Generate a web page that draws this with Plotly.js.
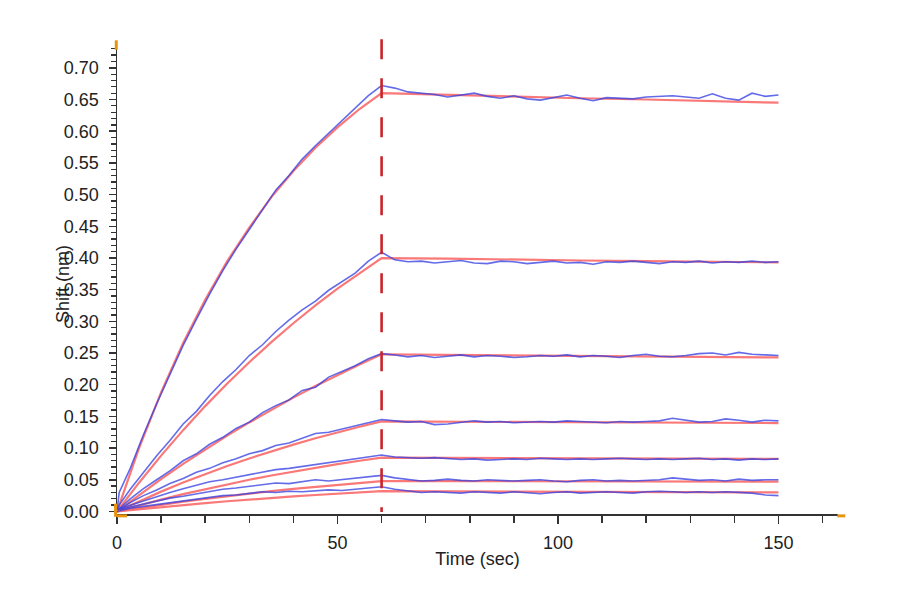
<!DOCTYPE html>
<html>
<head>
<meta charset="utf-8">
<script src="https://cdn.plot.ly/plotly-3.0.1.min.js"></script>
<style>
  html, body { margin: 0; padding: 0; background: #fff; }
  #graph { width: 900px; height: 600px; }
</style>
</head>
<body>
<div id="graph"></div>
<script>
// measured sensorgram times (sec)
const time = [0, 0.5, 3, 6, 9, 12, 15, 18, 21, 24, 27, 30, 33, 36, 39, 42, 45, 48, 51, 54, 57, 60,
  63, 66, 69, 72, 75, 78, 81, 84, 87, 90, 93, 96, 99, 102, 105, 108, 111, 114, 117, 120,
  123, 126, 129, 132, 135, 138, 141, 144, 147, 150];

// measured shift (nm), one array per concentration, highest first
const shift1 = [0, 0.030, 0.068, 0.121, 0.170, 0.217, 0.262, 0.303, 0.343, 0.380, 0.414, 0.445, 0.476, 0.507, 0.530, 0.556, 0.577, 0.597, 0.617, 0.636, 0.656, 0.672,
  0.668, 0.662, 0.660, 0.658, 0.654, 0.657, 0.660, 0.655, 0.652, 0.656, 0.651, 0.649, 0.653, 0.657, 0.652, 0.648, 0.653, 0.652, 0.651, 0.654,
  0.655, 0.656, 0.654, 0.652, 0.659, 0.652, 0.649, 0.660, 0.655, 0.657];
const shift2 = [0, 0.010, 0.035, 0.062, 0.088, 0.112, 0.138, 0.158, 0.183, 0.205, 0.224, 0.246, 0.263, 0.284, 0.302, 0.318, 0.332, 0.349, 0.362, 0.376, 0.395, 0.409,
  0.397, 0.394, 0.395, 0.392, 0.394, 0.396, 0.392, 0.391, 0.395, 0.394, 0.391, 0.393, 0.395, 0.392, 0.393, 0.390, 0.394, 0.393, 0.395, 0.393,
  0.391, 0.394, 0.393, 0.395, 0.392, 0.394, 0.393, 0.395, 0.393, 0.394];
const shift3 = [0, 0.004, 0.020, 0.036, 0.050, 0.064, 0.080, 0.091, 0.106, 0.117, 0.131, 0.141, 0.156, 0.167, 0.176, 0.191, 0.196, 0.212, 0.221, 0.230, 0.241, 0.249,
  0.247, 0.244, 0.246, 0.243, 0.245, 0.247, 0.244, 0.246, 0.245, 0.243, 0.244, 0.246, 0.245, 0.247, 0.244, 0.246, 0.245, 0.243, 0.246, 0.248,
  0.245, 0.244, 0.246, 0.249, 0.250, 0.247, 0.251, 0.248, 0.247, 0.246];
const shift4 = [0, 0.003, 0.014, 0.025, 0.034, 0.044, 0.052, 0.062, 0.068, 0.077, 0.083, 0.091, 0.096, 0.104, 0.108, 0.116, 0.123, 0.125, 0.130, 0.136, 0.140, 0.145,
  0.143, 0.141, 0.142, 0.137, 0.138, 0.141, 0.143, 0.141, 0.142, 0.140, 0.141, 0.142, 0.141, 0.143, 0.142, 0.141, 0.140, 0.142, 0.141, 0.142,
  0.143, 0.147, 0.144, 0.141, 0.142, 0.146, 0.144, 0.141, 0.144, 0.143];
const shift5 = [0, 0.003, 0.010, 0.017, 0.024, 0.030, 0.036, 0.041, 0.047, 0.050, 0.054, 0.059, 0.062, 0.066, 0.068, 0.071, 0.075, 0.077, 0.080, 0.083, 0.087, 0.089,
  0.086, 0.085, 0.084, 0.085, 0.083, 0.082, 0.083, 0.081, 0.082, 0.083, 0.082, 0.084, 0.083, 0.082, 0.083, 0.082, 0.083, 0.084, 0.083, 0.082,
  0.083, 0.082, 0.083, 0.084, 0.082, 0.083, 0.081, 0.083, 0.082, 0.083];
const shift6 = [0, 0.002, 0.007, 0.012, 0.017, 0.021, 0.024, 0.028, 0.031, 0.035, 0.037, 0.040, 0.042, 0.045, 0.044, 0.047, 0.050, 0.048, 0.050, 0.052, 0.055, 0.057,
  0.053, 0.050, 0.048, 0.049, 0.051, 0.049, 0.048, 0.050, 0.049, 0.048, 0.049, 0.050, 0.048, 0.047, 0.049, 0.050, 0.048, 0.049, 0.048, 0.049,
  0.050, 0.053, 0.051, 0.049, 0.050, 0.048, 0.051, 0.049, 0.050, 0.050];
const shift7 = [0, 0.001, 0.005, 0.008, 0.011, 0.014, 0.017, 0.019, 0.022, 0.025, 0.026, 0.028, 0.031, 0.030, 0.032, 0.031, 0.033, 0.034, 0.033, 0.035, 0.037, 0.039,
  0.035, 0.032, 0.030, 0.031, 0.030, 0.029, 0.031, 0.030, 0.029, 0.031, 0.030, 0.028, 0.030, 0.031, 0.029, 0.030, 0.031, 0.030, 0.029, 0.031,
  0.032, 0.031, 0.030, 0.031, 0.030, 0.031, 0.030, 0.029, 0.026, 0.025];

// fitted curves (global 1:1 fit)
const fitTime = [0, 5, 10, 15, 20, 25, 30, 35, 40, 45, 50, 55, 60, 75, 90, 105, 120, 135, 150];
const fit1 = [0, 0.100, 0.188, 0.266, 0.334, 0.395, 0.448, 0.496, 0.537, 0.574, 0.606, 0.635, 0.660, 0.657, 0.655, 0.652, 0.650, 0.647, 0.645];
const fit2 = [0, 0.0454, 0.0881, 0.1283, 0.1662, 0.2019, 0.2355, 0.2672, 0.2970, 0.3251, 0.3515, 0.3763, 0.3998, 0.399, 0.397, 0.396, 0.395, 0.394, 0.393];
const fit3 = [0, 0.0261, 0.0511, 0.0750, 0.0978, 0.1197, 0.1405, 0.1605, 0.1796, 0.1978, 0.2153, 0.2319, 0.2479, 0.247, 0.246, 0.245, 0.245, 0.244, 0.243];
const fit4 = [0, 0.0161, 0.0313, 0.0456, 0.0590, 0.0717, 0.0837, 0.0949, 0.1055, 0.1155, 0.1248, 0.1337, 0.1420, 0.1415, 0.141, 0.1405, 0.140, 0.1398, 0.1395];
const fit5 = [0, 0.0096, 0.0187, 0.0273, 0.0353, 0.0429, 0.0501, 0.0568, 0.0631, 0.0691, 0.0747, 0.0800, 0.0850, 0.0846, 0.0843, 0.0840, 0.0836, 0.0833, 0.0830];
const fit6 = [0, 0.0054, 0.0106, 0.0154, 0.0199, 0.0242, 0.0283, 0.0321, 0.0356, 0.0390, 0.0422, 0.0452, 0.0480, 0.0478, 0.0476, 0.0474, 0.0473, 0.0471, 0.0470];
const fit7 = [0, 0.0036, 0.0071, 0.0103, 0.0133, 0.0161, 0.0189, 0.0214, 0.0237, 0.0260, 0.0281, 0.0301, 0.0320, 0.0317, 0.0313, 0.0310, 0.0307, 0.0303, 0.0300];

// association -> dissociation switch
const dissocStart = 60;

const measured = [shift1, shift2, shift3, shift4, shift5, shift6, shift7];
const fitted = [fit1, fit2, fit3, fit4, fit5, fit6, fit7];

const traces = [];
for (let i = 0; i < measured.length; i++) {
    traces.push({
        x: fitTime,
        y: fitted[i],
        mode: 'lines',
        line: { color: 'rgba(250,105,105,0.9)', width: 2.2 },
        hoverinfo: 'skip'
    });
    traces.push({
        x: time,
        y: measured[i],
        mode: 'lines',
        line: { color: 'rgba(55,65,225,0.78)', width: 1.6 },
        hoverinfo: 'skip'
    });
}

const axisFont = { family: 'Liberation Sans, Arial, sans-serif', size: 18, color: '#222' };
const orange = '#e8940f';

const layout = {
    width: 900,
    height: 600,
    paper_bgcolor: '#fff',
    plot_bgcolor: '#fff',
    showlegend: false,
    margin: { l: 117, r: 62, t: 45, b: 86, pad: 0 },
    xaxis: {
        range: [0, 163.5],
        showgrid: false,
        zeroline: false,
        showline: true,
        linecolor: '#333',
        linewidth: 1.5,
        ticks: 'outside',
        ticklen: 8,
        tickwidth: 1.5,
        tickcolor: '#333',
        tick0: 0,
        dtick: 50,
        tickfont: axisFont,
        ticklabelstandoff: 4,
        minor: { dtick: 10, ticks: 'outside', ticklen: 7, tickwidth: 1.5, tickcolor: '#333', showgrid: false },
        title: { text: 'Time (sec)', font: axisFont, standoff: 0 }
    },
    yaxis: {
        range: [-0.004, 0.736],
        showgrid: false,
        zeroline: false,
        showline: true,
        linecolor: '#333',
        linewidth: 1.5,
        ticks: 'outside',
        ticklen: 7,
        tickwidth: 1.5,
        tickcolor: '#333',
        tick0: 0,
        dtick: 0.05,
        tickformat: '.2f',
        tickfont: axisFont,
        ticklabelstandoff: 6,
        minor: { dtick: 0.01, ticks: 'outside', ticklen: 5, tickwidth: 1.3, tickcolor: '#333', showgrid: false }
    },
    annotations: [{
        text: 'Shift (nm)',
        textangle: -90,
        xref: 'paper', yref: 'paper',
        x: -0.075, y: 0.49,
        xanchor: 'center', yanchor: 'middle',
        showarrow: false,
        font: axisFont
    }],
    shapes: [
        // end of association
        {
            type: 'line', xref: 'x', yref: 'paper',
            x0: dissocStart, x1: dissocStart, y0: 1.012, y1: 0.004,
            line: { color: '#c8252b', width: 2.6, dash: '20px,19px' }
        },
        // orange cursor marks at the axis ends
        { type: 'line', xref: 'paper', yref: 'paper', x0: -0.001, x1: -0.001, y0: 1.01, y1: 0.99,
          line: { color: orange, width: 3 } },
        { type: 'line', xref: 'paper', yref: 'paper', x0: -0.002, x1: -0.002, y0: 0.022, y1: -0.006,
          line: { color: orange, width: 3 } },
        { type: 'line', xref: 'paper', yref: 'paper', x0: 0, x1: 0.014, y0: -0.004, y1: -0.004,
          line: { color: orange, width: 3 } },
        { type: 'line', xref: 'paper', yref: 'paper', x0: 0.999, x1: 1.01, y0: -0.004, y1: -0.004,
          line: { color: orange, width: 3 } }
    ]
};

Plotly.newPlot('graph', traces, layout, { displayModeBar: false, staticPlot: true });
</script>
</body>
</html>
